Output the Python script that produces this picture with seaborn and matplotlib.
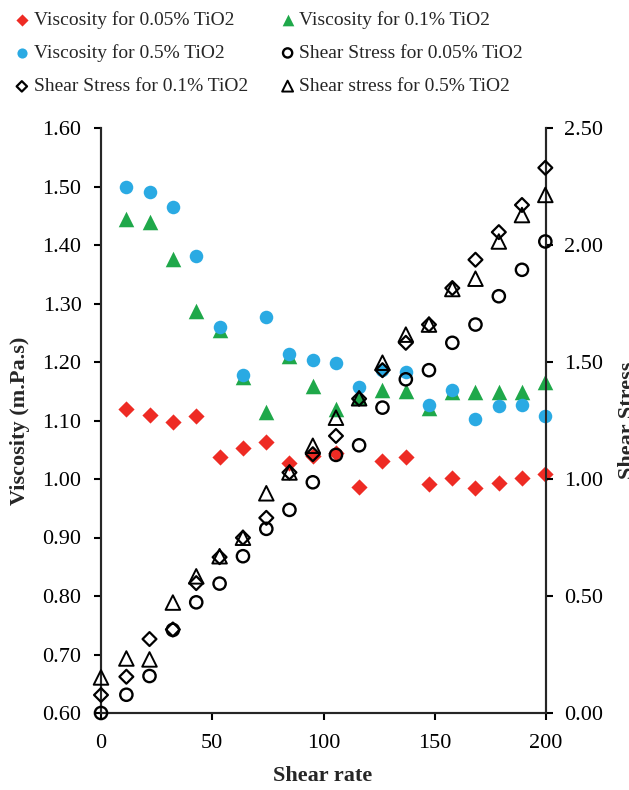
import matplotlib
matplotlib.use("Agg")
import matplotlib.pyplot as plt
import seaborn as sns
import pandas as pd
from matplotlib.ticker import FormatStrFormatter

# Shear rate (1/s) at which shear stress was recorded; viscosity starts at the second step
shear_rate = [0, 11.4, 21.8, 32.3, 42.8, 53.3, 63.8, 74.3, 84.7, 95.2,
              105.6, 116.0, 126.5, 137.0, 147.4, 157.9, 168.3, 178.8, 189.2, 199.7]
visc_rate = shear_rate[1:]

# Viscosity (m.Pa.s)
visc_005 = [1.119, 1.109, 1.097, 1.107, 1.038, 1.053, 1.063, 1.027, 1.040, 1.044,
            0.986, 1.030, 1.037, 0.991, 1.001, 0.984, 0.993, 1.001, 1.009]
visc_01 = [1.445, 1.440, 1.376, 1.288, 1.255, 1.174, 1.115, 1.210, 1.159, 1.120,
           1.140, 1.152, 1.150, 1.122, 1.148, 1.148, 1.148, 1.148, 1.165]
visc_05 = [1.500, 1.490, 1.465, 1.382, 1.260, 1.177, 1.277, 1.213, 1.204, 1.199,
           1.158, 1.187, 1.183, 1.126, 1.152, 1.103, 1.125, 1.126, 1.107]

# Shear stress
stress_005 = [0.000, 0.078, 0.158, 0.355, 0.473, 0.553, 0.670, 0.787, 0.868, 0.986,
              1.103, 1.144, 1.305, 1.426, 1.465, 1.582, 1.660, 1.781, 1.894, 2.015]
stress_01 = [0.077, 0.155, 0.316, 0.357, 0.555, 0.666, 0.749, 0.834, 1.028, 1.106,
             1.184, 1.343, 1.465, 1.582, 1.660, 1.816, 1.937, 2.055, 2.171, 2.330]
stress_05 = [0.152, 0.233, 0.229, 0.472, 0.584, 0.670, 0.749, 0.939, 1.028, 1.142,
             1.262, 1.345, 1.497, 1.617, 1.660, 1.812, 1.856, 2.015, 2.128, 2.214]

visc_labels = ["Viscosity for 0.05% TiO2", "Viscosity for 0.1% TiO2",
               "Viscosity for 0.5% TiO2"]
stress_labels = ["Shear Stress for 0.05% TiO2", "Shear Stress for 0.1% TiO2",
                 "Shear stress for 0.5% TiO2"]

visc_df = pd.DataFrame({"rate": visc_rate, "v005": visc_005, "v01": visc_01, "v05": visc_05})
stress_df = pd.DataFrame({"rate": shear_rate, "s005": stress_005, "s01": stress_01, "s05": stress_05})

sns.set_style("ticks")
plt.rcParams["font.family"] = ["Liberation Serif", "DejaVu Serif"]
plt.rcParams["axes.linewidth"] = 1.5

RED, GREEN, BLUE = "#EE2B24", "#1FA84A", "#2AAAE3"

fig = plt.figure(figsize=(6.29, 7.90), dpi=100)
ax = fig.add_axes([101 / 629, 77 / 790, 445 / 629, 585 / 790])
ax2 = ax.twinx()

common = dict(clip_on=False, legend=False, zorder=3)

# Viscosity series (left axis, filled markers)
sns.scatterplot(data=visc_df, x="rate", y="v005", ax=ax, marker="D", s=68, color=RED,
                linewidth=0, label=visc_labels[0], **common)
sns.scatterplot(data=visc_df, x="rate", y="v01", ax=ax, marker="^", s=125, color=GREEN,
                linewidth=0, label=visc_labels[1], **common)
sns.scatterplot(data=visc_df, x="rate", y="v05", ax=ax, marker="o", s=95, color=BLUE,
                linewidth=0, label=visc_labels[2], **common)

# Shear stress series (right axis, hollow markers)
sns.scatterplot(data=stress_df, x="rate", y="s005", ax=ax2, marker="o", s=78,
                facecolor="none", edgecolor="black", linewidth=1.7,
                label=stress_labels[0], **common)
sns.scatterplot(data=stress_df, x="rate", y="s01", ax=ax2, marker="D", s=50,
                facecolor="none", edgecolor="black", linewidth=1.6,
                label=stress_labels[1], **common)
sns.scatterplot(data=stress_df, x="rate", y="s05", ax=ax2, marker="^", s=110,
                facecolor="none", edgecolor="black", linewidth=1.4,
                label=stress_labels[2], **common)

ax.set_xlim(0, 200)
ax.set_ylim(0.6, 1.6)
ax2.set_ylim(0.0, 2.5)
ax.set_xticks([0, 50, 100, 150, 200])
ax.set_yticks([0.6 + 0.1 * i for i in range(11)])
ax2.set_yticks([0.0, 0.5, 1.0, 1.5, 2.0, 2.5])
ax.yaxis.set_major_formatter(FormatStrFormatter("%.2f"))
ax2.yaxis.set_major_formatter(FormatStrFormatter("%.2f"))

for a in (ax, ax2):
    a.spines["top"].set_visible(False)
    a.tick_params(axis="both", direction="out", length=5, width=1.5,
                  labelsize=16, colors="black")
ax.tick_params(axis="y", pad=9)
ax.tick_params(axis="x", pad=10)
ax2.tick_params(axis="y", pad=8)
ax.set_xlabel("")
ax.set_ylabel("")
ax2.set_ylabel("")

mid_y = 1 - 420.5 / 790
fig.text(323 / 629, 1 - 776 / 790, "Shear rate", ha="center", va="center",
         fontsize=16, fontweight="bold")
fig.text(20 / 629, mid_y, "Viscosity (m.Pa.s)", rotation=90, ha="center",
         va="center", fontsize=16, fontweight="bold")
fig.text(618 / 629, mid_y, "Shear Stress", rotation=90, ha="left",
         va="center", fontsize=16, fontweight="bold")

h1, l1 = ax.get_legend_handles_labels()
h2, l2 = ax2.get_legend_handles_labels()
hmap = dict(zip(l1 + l2, h1 + h2))
order = [visc_labels[0], visc_labels[2], stress_labels[1],
         visc_labels[1], stress_labels[0], stress_labels[2]]
fig.legend([hmap[k] for k in order], order, ncol=2, frameon=False,
           loc="upper left", bbox_to_anchor=(16 / 629, 1 - 11 / 790),
           fontsize=14, markerscale=0.75, handlelength=0.6, handletextpad=0.3,
           columnspacing=1.75, labelspacing=0.8, borderaxespad=0, borderpad=0)

fig.savefig("out.png", dpi=100, facecolor="white")
